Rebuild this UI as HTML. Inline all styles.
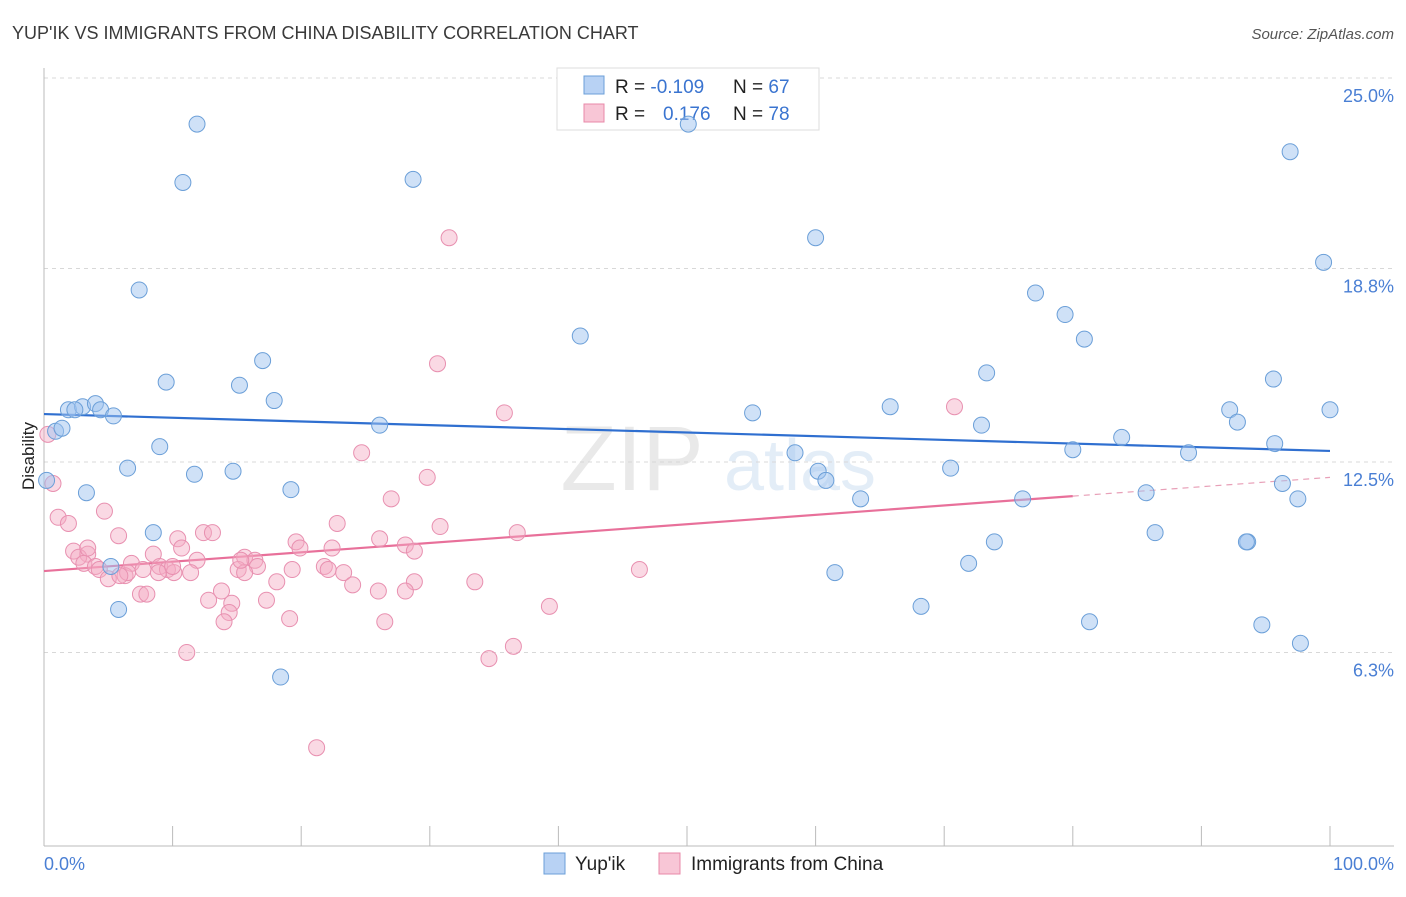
<!DOCTYPE html>
<html><head><meta charset="utf-8"><style>
body{margin:0;background:#fff;font-family:"Liberation Sans",sans-serif;}
svg text{font-family:"Liberation Sans",sans-serif;}
</style></head><body>
<svg id="chart" width="1406" height="892" xmlns="http://www.w3.org/2000/svg">
<text x="12" y="39" font-size="18" fill="#3a3a3a">YUP'IK VS IMMIGRANTS FROM CHINA DISABILITY CORRELATION CHART</text>
<text x="1394" y="39" font-size="15" fill="#555" text-anchor="end" font-style="italic">Source: ZipAtlas.com</text>
<g opacity="0.18">
<text x="632" y="490" font-size="92" font-family="Liberation Serif" fill="#888" text-anchor="middle">ZIP</text>
<text x="800" y="490" font-size="72" fill="#6b9fd8" text-anchor="middle">atlas</text>
</g>
<g id="grid"></g>
<g id="axes"></g>
<g>
<rect x="557" y="68" width="262" height="62" fill="#fff" stroke="#ddd"/>
<rect x="584" y="76" width="20" height="18" fill="#b8d2f4" stroke="#6b9fd8"/>
<rect x="584" y="104" width="20" height="18" fill="#f8c6d6" stroke="#e888a8"/>
<text x="615" y="93" font-size="19" fill="#222">R = <tspan fill="#3a74d0">-0.109</tspan><tspan x="733">N = </tspan><tspan fill="#3a74d0">67</tspan></text>
<text x="615" y="120" font-size="19" fill="#222">R = <tspan x="663" fill="#3a74d0">0.176</tspan><tspan x="733">N = </tspan><tspan fill="#3a74d0">78</tspan></text>
</g>
<g id="trend"></g>
<g id="pts"></g>
<text transform="translate(34,456) rotate(-90)" font-size="17" fill="#222" text-anchor="middle">Disability</text>
<text x="44" y="870" font-size="18" fill="#4a7fd4">0.0%</text>
<text x="1394" y="870" font-size="18" fill="#4a7fd4" text-anchor="end">100.0%</text>
<g>
<rect x="544" y="853" width="21" height="21" fill="#b8d2f4" stroke="#6b9fd8"/>
<text x="575" y="870" font-size="19" fill="#222">Yup'ik</text>
<rect x="659" y="853" width="21" height="21" fill="#f8c6d6" stroke="#e888a8"/>
<text x="691" y="870" font-size="19" fill="#222">Immigrants from China</text>
</g>
</svg>
<script>
const yTicks=[25.0,18.8,12.5,6.3];
const yTickLabels=["25.0%","18.8%","12.5%","6.3%"];
const xTicks=[0,10,20,30,40,50,60,70,80,90,100];
const blueX=[11.9,10.8,28.7,50.1,7.4,60.0,96.9,99.5,41.7,77.1,79.4,80.9,17.0,9.5,15.2,73.3,95.6,17.9,1.9,3.0,4.0,4.4,2.4,5.4,55.1,65.8,92.2,100,92.8,0.9,1.4,26.1,72.9,83.8,9.0,95.7,58.4,80.0,89.0,6.5,11.7,14.7,70.5,60.2,60.8,96.3,0.2,3.3,19.2,63.5,85.7,76.1,97.5,8.5,86.4,73.9,93.6,93.5,5.2,71.9,61.5,5.8,68.2,81.3,94.7,97.7,18.4];
const blueY=[23.5,21.6,21.7,23.5,18.1,19.8,22.6,19.0,16.6,18.0,17.3,16.5,15.8,15.1,15.0,15.4,15.2,14.5,14.2,14.3,14.4,14.2,14.2,14.0,14.1,14.3,14.2,14.2,13.8,13.5,13.6,13.7,13.7,13.3,13.0,13.1,12.8,12.9,12.8,12.3,12.1,12.2,12.3,12.2,11.9,11.8,11.9,11.5,11.6,11.3,11.5,11.3,11.3,10.2,10.2,9.9,9.9,9.9,9.1,9.2,8.9,7.7,7.8,7.3,7.2,6.6,5.5];
const pinkX=[31.5,30.6,35.8,70.8,24.7,29.8,27.0,0.7,0.3,4.7,1.1,1.9,22.8,30.8,36.8,5.8,12.4,13.1,10.4,19.6,26.1,2.3,10.7,8.5,22.4,28.1,28.8,3.4,2.7,3.1,4.0,4.3,15.6,16.4,16.6,11.9,6.8,9.0,9.6,10.1,7.7,15.1,15.6,19.3,21.8,22.1,23.3,6.3,6.5,11.4,8.9,5.0,18.1,24.0,28.8,33.5,46.3,13.8,14.6,12.8,7.5,8.0,17.3,26.0,28.1,39.3,14.4,19.1,26.5,14.0,36.5,11.1,34.6,21.2,5.9,19.9,3.4,15.3,10.0];
const pinkY=[19.8,15.7,14.1,14.3,12.8,12.0,11.3,11.8,13.4,10.9,10.7,10.5,10.5,10.4,10.2,10.1,10.2,10.2,10.0,9.9,10.0,9.6,9.7,9.5,9.7,9.8,9.6,9.5,9.4,9.2,9.1,9.0,9.4,9.3,9.1,9.3,9.2,9.1,9.0,8.9,9.0,9.0,8.9,9.0,9.1,9.0,8.9,8.8,8.9,8.9,8.9,8.7,8.6,8.5,8.6,8.6,9.0,8.3,7.9,8.0,8.2,8.2,8.0,8.3,8.3,7.8,7.6,7.4,7.3,7.3,6.5,6.3,6.1,3.2,8.8,9.7,9.7,9.3,9.1];
const blueTrend=[14.06,12.86];
const pinkTrend=[8.95,12.0];
const pinkSolidEnd=80;
const NS="http://www.w3.org/2000/svg";
const xs=v=>44+v*12.86;
const ys=v=>78+(25-v)*30.72;
function mk(tag,attrs,parent){const e=document.createElementNS(NS,tag);for(const k in attrs)e.setAttribute(k,attrs[k]);document.getElementById(parent).appendChild(e);return e;}
yTicks.forEach((t,i)=>{
 const l=mk('line',{x1:44,x2:1394,y1:ys(t),y2:ys(t),stroke:'#d8d8d8','stroke-dasharray':'4,4'},'grid');
 
 
 const tx=mk('text',{x:1394,y:ys(t)+24,'font-size':18,fill:'#4a7fd4','text-anchor':'end'},'grid');
 tx.textContent=yTickLabels[i];
 
 
});
const ax=mk('line',{x1:44,x2:44,y1:68,y2:846,stroke:'#bbb'},'axes');


const bx=mk('line',{x1:44,x2:1394,y1:846,y2:846,stroke:'#bbb'},'axes');


xTicks.forEach(t=>{
 const l=mk('line',{x1:xs(t),x2:xs(t),y1:826,y2:846,stroke:'#bbb'},'axes');
 
 
});
const bt=mk('line',{x1:xs(0),y1:ys(blueTrend[0]),x2:xs(100),y2:ys(blueTrend[1]),stroke:'#2f6fd0','stroke-width':2.2},'trend');


const pm=pinkTrend[0]+(pinkTrend[1]-pinkTrend[0])*pinkSolidEnd/100;
const pt=mk('line',{x1:xs(0),y1:ys(pinkTrend[0]),x2:xs(pinkSolidEnd),y2:ys(pm),stroke:'#e8709a','stroke-width':2.2},'trend');


const pd=mk('line',{x1:xs(pinkSolidEnd),y1:ys(pm),x2:xs(100),y2:ys(pinkTrend[1]),stroke:'#e8a0b8','stroke-width':1.2,'stroke-dasharray':'6,5'},'trend');


pinkX.forEach((x,i)=>{
 const c=mk('circle',{cx:xs(x),cy:ys(pinkY[i]),r:8,fill:'rgba(245,170,196,0.45)',stroke:'#e890b0','stroke-width':1},'pts');
 
 
});
blueX.forEach((x,i)=>{
 const c=mk('circle',{cx:xs(x),cy:ys(blueY[i]),r:8,fill:'rgba(160,195,240,0.5)',stroke:'#6b9fd8','stroke-width':1},'pts');
 
 
});
</script>
</body></html>
